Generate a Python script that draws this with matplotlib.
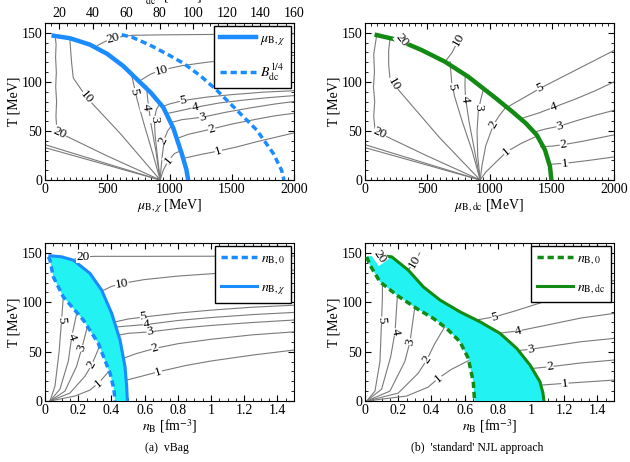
import numpy as np
import matplotlib
matplotlib.use("Agg")
import matplotlib.pyplot as plt
from matplotlib.ticker import MultipleLocator

plt.rcParams['font.family'] = 'serif'
plt.rcParams['font.serif'] = ['Liberation Serif', 'DejaVu Serif']
plt.rcParams['mathtext.fontset'] = 'stix'

BLUE = '#1a8cff'; GREEN = '#138a13'; CYAN = '#22f2f2'; GREY = '#7a7a7a'

# ---------------- (a) vBag, mu-T plane ----------------
tl_chi_mu = [70, 200, 360, 500, 630, 760, 850, 950, 1030, 1098, 1135, 1150]
tl_chi_T = [147, 144.5, 138, 128.5, 116, 100, 89, 74, 53, 27, 11, 0]
tl_dc_mu = [616, 700, 843, 1000, 1111, 1250, 1379, 1540, 1700, 1834, 1900, 1920]
tl_dc_T = [148, 145.5, 137.5, 127, 119, 106, 91.6, 71.3, 51, 27, 10, 0]
# isentropes s/n_B (hadronic side, all from the nucleon mass point)
tl_h = {
    'w1': ([0, 925], [36, 0]),
    'w2': ([0, 925], [33, 0]),
    '20': ([925, 500, 120, 94, 88, 93, 86, 91, 85, 89, 82], [0, 24.5, 47.8, 52.6, 65, 80, 95, 110, 125, 138, 147]),
    '10': ([925, 600, 335, 227, 214, 205, 200], [0, 48, 84, 104, 119, 134, 143]),
    '5': ([925, 870, 800, 740, 696], [0, 25, 55, 82, 107]),
    '4': ([925, 890, 850, 825, 815], [0, 30, 58, 82, 96]),
    '3': ([925, 905, 885, 878, 895, 925], [0, 22, 45, 62, 72, 78]),
    '2': ([925, 932, 945, 960, 985, 1015], [0, 12, 28, 42, 50, 55]),
    '1': ([925, 950, 991, 1040, 1095], [0, 10, 20, 27, 30]),
}
tl_q = {
    '20': ([420, 480, 560, 700, 1000, 1500, 2000], [137, 141, 145, 147.5, 148, 148.5, 149]),
    '10': ([760, 850, 937, 1100, 1300, 1600, 2000], [101, 108, 112, 116.5, 120, 124, 127]),
    '5': ([950, 1000, 1111, 1300, 1500, 1750, 2000], [75, 77.5, 81, 84.5, 87, 89.5, 91]),
    '4': ([990, 1100, 1205, 1400, 1600, 1800, 2000], [68, 71, 74, 78.5, 81.5, 84, 86]),
    '3': ([1025, 1100, 1266, 1450, 1650, 1850, 2000], [59, 61.5, 64, 69, 73.5, 77.5, 80]),
    '2': ([1075, 1150, 1339, 1500, 1700, 1850, 2000], [43, 46.5, 52, 57, 62, 65.5, 68]),
    '1': ([1112, 1250, 1393, 1550, 1700, 1850, 2000], [22, 26, 29.5, 34, 39, 43.5, 48]),
}
tl_labels = [('20', 120, 47.8, -25), ('10', 335, 84, -50), ('5', 717, 90, -78), ('4', 811, 74, -84),
             ('3', 878, 62, -90), ('2', 950, 40, 65), ('1', 991, 20, 50),
             ('20', 550, 144, 15), ('10', 937, 112, 14), ('5', 1111, 81, 10), ('4', 1205, 74, 12),
             ('3', 1266, 64, 14), ('2', 1339, 52, 17), ('1', 1393, 29.5, 17)]

# ---------------- (b) NJL, mu-T plane ----------------
tr_dc_mu = [94, 268, 455, 643, 830, 1044, 1180, 1290, 1379, 1446, 1486, 1497]
tr_dc_T = [147.7, 142.6, 132.4, 120.5, 105.2, 84, 70, 58, 46, 30.5, 13.6, 0]
tr_h = {
    'w1': ([0, 925], [36, 0]),
    'w2': ([0, 925], [33, 0]),
    '20': ([925, 500, 120, 80, 70, 78, 68, 76, 70, 94], [0, 24.5, 47.5, 52, 65, 80, 95, 110, 128, 147.7]),
    '10': ([925, 600, 227, 200, 190, 190, 200], [0, 43, 98, 104, 118, 132, 143]),
    '5': ([925, 860, 780, 720, 696, 683], [0, 30, 60, 85, 100, 120.5]),
    '4': ([925, 880, 835, 808, 803, 805], [0, 30, 60, 83, 95, 107]),
    '3': ([925, 905, 900, 910, 930, 950], [0, 25, 50, 70, 82, 92]),
    '2': ([925, 940, 970, 1031, 1080, 1125], [0, 15, 35, 56, 66, 73]),
    '1': ([925, 970, 1050, 1138, 1250, 1385], [0, 8, 18, 28.8, 37, 45]),
}
tr_q = {
    '10': ([643, 700, 740, 770], [120.5, 130, 140, 148]),
    '5': ([1125, 1250, 1406, 1600, 1800, 2000], [73, 82, 93.4, 106, 119, 132]),
    '4': ([1259, 1400, 1514, 1700, 1850, 2000], [62.8, 68.5, 74, 83, 91, 100]),
    '3': ([1365, 1450, 1566, 1700, 1850, 2000], [49, 52, 55, 60.5, 66, 71]),
    '2': ([1410, 1500, 1593, 1750, 2000], [34, 34.5, 36, 39.5, 46]),
    '1': ([1486, 1540, 1606, 1800, 2000], [16, 16.5, 17, 20, 23.5]),
}
tr_labels = [('20', 120, 47.5, -25), ('10', 227, 98, -60), ('5', 696, 95, -80), ('4', 803, 83, -85),
             ('3', 910, 74, -90), ('2', 1031, 56, 60), ('1', 1138, 28.8, 40),
             ('20', 295, 142.6, -50), ('10', 750, 143, 60),
             ('5', 1406, 93.4, 25), ('4', 1514, 74, 20), ('3', 1566, 55, 15), ('2', 1593, 35.6, 8),
             ('1', 1606, 17, 5)]

# ---------------- (a) vBag, n_B-T plane ----------------
bl_chi_n = [0.03, 0.10, 0.171, 0.271, 0.341, 0.402, 0.452, 0.482, 0.492, 0.496]
bl_chi_T = [147.1, 146, 142.6, 129.2, 112.3, 88.7, 61.7, 34.7, 15, 0]
bl_0_n = [0.02, 0.03, 0.05, 0.11, 0.231, 0.321, 0.392, 0.415, 0.422]
bl_0_T = [146, 142.6, 125.7, 105.5, 81.9, 58.4, 28, 12, 0]
bl_h = {
    '5': ([0.03, 0.06, 0.085, 0.10, 0.11], [0, 15, 50, 82, 105]),
    '4': ([0.03, 0.09, 0.14, 0.161, 0.19], [0, 12, 40, 65, 88]),
    '3': ([0.03, 0.12, 0.19, 0.221, 0.255], [0, 10, 35, 53, 75]),
    '2': ([0.03, 0.15, 0.24, 0.281, 0.33], [0, 8, 25, 36.4, 56]),
    '1': ([0.03, 0.18, 0.27, 0.321, 0.385], [0, 5, 11, 18, 30]),
}
bl_q = {
    '20': ([0.18, 0.231, 0.3, 0.6, 1.0, 1.5], [143.8, 146, 146.5, 146.5, 146.6, 146.8]),
    '10': ([0.351, 0.40, 0.462, 0.6, 0.8, 1.1, 1.5], [112, 116, 119, 123, 126.5, 130, 132.5]),
    '5': ([0.42, 0.5, 0.592, 0.8, 1.0, 1.25, 1.5], [80, 83, 85, 89, 92, 95, 97]),
    '4': ([0.432, 0.5, 0.612, 0.8, 1.0, 1.25, 1.5], [75, 76, 77.5, 81.5, 84.5, 87.5, 89.7]),
    '3': ([0.445, 0.5, 0.633, 0.8, 1.0, 1.25, 1.5], [66.8, 68.5, 70, 73.5, 76.5, 79.5, 82]),
    '2': ([0.472, 0.55, 0.663, 0.8, 1.0, 1.25, 1.5], [43.2, 48, 53.3, 58, 62.5, 67, 70]),
    '1': ([0.492, 0.58, 0.683, 0.85, 1.0, 1.25, 1.5], [21.2, 25, 29.6, 36, 40.5, 46.5, 51.6]),
}
bl_labels = [('5', 0.10, 82, -85), ('4', 0.161, 65, -70), ('3', 0.221, 53.3, 70), ('2', 0.281, 36.4, 60),
             ('1', 0.321, 18, 40), ('20', 0.231, 146, 0), ('10', 0.462, 119, 10), ('5', 0.592, 85, 8),
             ('4', 0.612, 77.5, 8), ('3', 0.633, 70, 10), ('2', 0.663, 53.3, 18), ('1', 0.683, 29.6, 18)]

# ---------------- (b) NJL, n_B-T plane ----------------
br_dc_n = [0.06, 0.161, 0.261, 0.351, 0.452, 0.572, 0.693, 0.813, 0.914, 0.994, 1.054, 1.072, 1.078]
br_dc_T = [147.7, 146, 132.5, 115.6, 102.2, 90.3, 80.2, 68.5, 53.3, 36.4, 19.5, 8, 0]
br_0_n = [0.01, 0.03, 0.09, 0.191, 0.311, 0.412, 0.492, 0.572, 0.622, 0.652, 0.66]
br_0_T = [146, 137.6, 120.7, 107.2, 93.7, 83.6, 73.5, 60, 43.2, 19.5, 0]
br_h = {
    '5': ([0.01, 0.06, 0.09, 0.10, 0.105, 0.105], [0, 10, 40, 82, 105, 116]),
    '4': ([0.01, 0.10, 0.155, 0.181, 0.195], [0, 12, 45, 70, 106.5]),
    '3': ([0.01, 0.15, 0.24, 0.271, 0.30], [0, 10, 40, 60, 95]),
    '2': ([0.01, 0.20, 0.32, 0.372, 0.42, 0.48], [0, 8, 28, 41.5, 58, 75]),
    '1': ([0.01, 0.25, 0.38, 0.442, 0.52, 0.625], [0, 5, 14, 23, 32, 41]),
}
br_q = {
    '10': ([0.26, 0.28, 0.301, 0.33], [132.5, 137, 141, 150]),
    '5': ([0.643, 0.72, 0.783, 0.9, 1.05, 1.2, 1.5], [81, 83.5, 85.3, 91, 99, 107, 122]),
    '4': ([0.78, 0.85, 0.924, 1.1, 1.3, 1.5], [68, 69.5, 71, 77, 84, 88.7]),
    '3': ([0.92, 1.0, 1.1, 1.3, 1.5], [51, 52.5, 55, 60, 63.4]),
    '2': ([1.01, 1.114, 1.3, 1.5], [33, 34.7, 38.5, 41.5]),
    '1': ([1.07, 1.205, 1.35, 1.5], [16.2, 17.9, 19.5, 21.2]),
}
br_labels = [('5', 0.10, 82, -85), ('4', 0.181, 70, -80), ('3', 0.271, 60, 75), ('2', 0.372, 41.5, 55),
             ('1', 0.442, 23, 40), ('20', 0.09, 146, -55), ('10', 0.301, 141, 60),
             ('5', 0.783, 85.3, 15), ('4', 0.924, 71, 15), ('3', 1.0, 52.5, 10), ('2', 1.114, 34.7, 8),
             ('1', 1.205, 17.9, 5)]


def px(x0, y0, x1, y1):
    W, H = 630, 462
    return [x0 / W, 1 - y1 / H, (x1 - x0) / W, (y1 - y0) / H]


def isentropes(ax, groups, labels):
    for g in groups:
        for xs, ys in g.values():
            ax.plot(xs, ys, color=GREY, lw=0.8, zorder=2)
    for s, x, y, r in labels:
        ax.text(x, y, s, rotation=r, ha='center', va='center', fontsize=9.5, zorder=6,
                bbox=dict(fc='white', ec='none', pad=0.2))


def style(ax, mu=True):
    ax.set_ylim(0, 160)
    ax.yaxis.set_major_locator(MultipleLocator(50)); ax.yaxis.set_minor_locator(MultipleLocator(10))
    if mu:
        ax.set_xlim(0, 2000)
        ax.xaxis.set_major_locator(MultipleLocator(500)); ax.xaxis.set_minor_locator(MultipleLocator(50))
    else:
        ax.set_xlim(0, 1.5)
        ax.xaxis.set_major_locator(MultipleLocator(0.2)); ax.xaxis.set_minor_locator(MultipleLocator(0.05))
        ax.set_xticklabels(['0' if abs(v) < 1e-9 else ('1' if abs(v - 1) < 1e-9 else f'{v:g}')
                            for v in ax.get_xticks()])
    ax.tick_params(which='both', direction='in', top=True, right=True, labelsize=10, pad=2)
    ax.tick_params(which='major', length=4); ax.tick_params(which='minor', length=2)
    ax.set_ylabel('T [MeV]', fontsize=10, labelpad=1)


def legend(ax):
    ax.legend(loc='upper right', fontsize=10, handlelength=2.6, labelspacing=1.0, fancybox=False,
              edgecolor='black', framealpha=1, borderaxespad=0.25, handletextpad=0.3, borderpad=0.4)


fig = plt.figure(figsize=(6.3, 4.62), dpi=100)

# top-left
ax = fig.add_axes(px(45, 23, 294, 180))
isentropes(ax, [tl_h, tl_q], tl_labels)
ax.plot(tl_chi_mu, tl_chi_T, color=BLUE, lw=3.2, zorder=4, label=r'$\mu_{\mathrm{B},\chi}$')
ax.plot(tl_dc_mu, tl_dc_T, color=BLUE, lw=2.5, ls=(0, (1.8, 1.1)), zorder=4,
        label=r'$B_{\mathrm{dc}}^{1/4}$')
style(ax)
ax.set_xlabel(r'$\mu_{\mathrm{B},\chi}$ [MeV]', fontsize=10, labelpad=1)
ax.tick_params(which='both', top=False)
sec = ax.secondary_xaxis('top', functions=(lambda m: 11.6 + m * 148.4 / 2000,
                                           lambda b: (b - 11.6) * 2000 / 148.4))
sec.xaxis.set_major_locator(MultipleLocator(20)); sec.xaxis.set_minor_locator(MultipleLocator(5))
sec.tick_params(which='both', direction='in', labelsize=10, pad=2)
sec.tick_params(which='major', length=4); sec.tick_params(which='minor', length=2)
# axis title above the top axis, mostly beyond the figure edge as in the reference
fig.text(170 / 630, 1 - 1 / 462, r'$B_{\mathrm{dc}}^{1/4}$ [MeV]', ha='center', va='baseline', fontsize=10)
legend(ax)

# top-right
ax = fig.add_axes(px(365, 23, 614, 180))
isentropes(ax, [tr_h, tr_q], tr_labels)
ax.plot(tr_dc_mu, tr_dc_T, color=GREEN, lw=3.2, zorder=4)
style(ax)
ax.set_xlabel(r'$\mu_{\mathrm{B,dc}}$ [MeV]', fontsize=10, labelpad=1)

# bottom-left
ax = fig.add_axes(px(45, 243, 294, 401))
isentropes(ax, [bl_h, bl_q], bl_labels)
ax.fill(np.concatenate([bl_chi_n, bl_0_n[::-1]]), np.concatenate([bl_chi_T, bl_0_T[::-1]]),
        color=CYAN, lw=0, zorder=3)
ax.plot(bl_0_n, bl_0_T, color=BLUE, lw=2.5, ls=(0, (1.8, 1.1)), zorder=4, label=r'$n_{\mathrm{B},0}$')
ax.plot(bl_chi_n, bl_chi_T, color=BLUE, lw=2.2, zorder=4, label=r'$n_{\mathrm{B},\chi}$')
style(ax, mu=False)
ax.set_xlabel(r'$n_{\mathrm{B}}$ [fm$^{-3}$]', fontsize=10, labelpad=0)
legend(ax)

# bottom-right
ax = fig.add_axes(px(365, 243, 614, 401))
isentropes(ax, [br_h, br_q], br_labels)
ax.fill(np.concatenate([br_dc_n, br_0_n[::-1]]), np.concatenate([br_dc_T, br_0_T[::-1]]),
        color=CYAN, lw=0, zorder=3)
ax.plot(br_0_n, br_0_T, color=GREEN, lw=2.5, ls=(0, (1.8, 1.1)), zorder=4, label=r'$n_{\mathrm{B},0}$')
ax.plot(br_dc_n, br_dc_T, color=GREEN, lw=2.2, zorder=4, label=r'$n_{\mathrm{B,dc}}$')
style(ax, mu=False)
ax.set_xlabel(r'$n_{\mathrm{B}}$ [fm$^{-3}$]', fontsize=10, labelpad=0)
legend(ax)

fig.text(167 / 630, 1 - 448 / 462, '(a)  vBag', ha='center', va='center', fontsize=8.5)
fig.text(477 / 630, 1 - 448 / 462, "(b)  'standard' NJL approach", ha='center', va='center', fontsize=8.5)

fig.savefig('out.png', dpi=100)
